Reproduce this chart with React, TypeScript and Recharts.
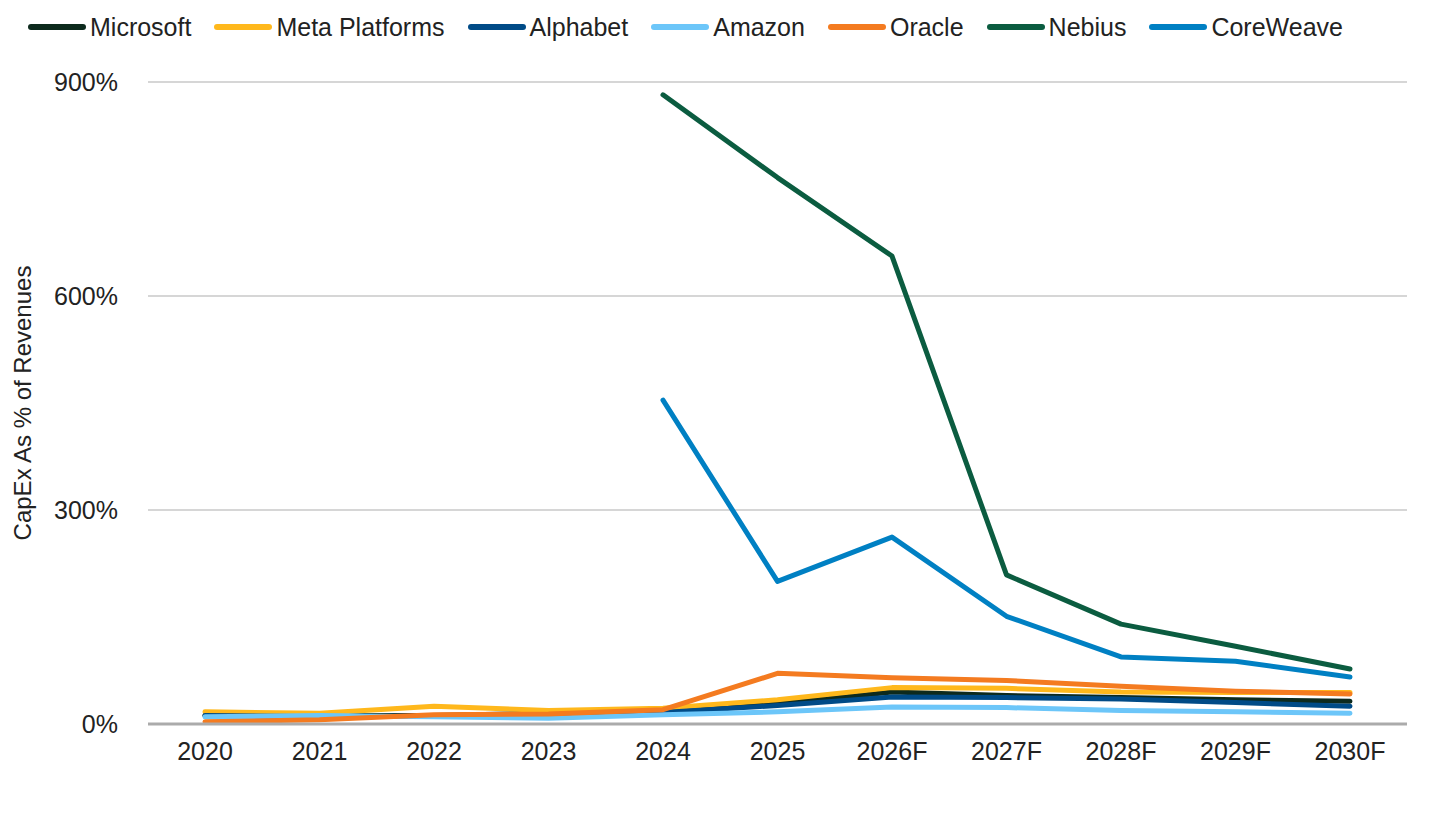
import { LineChart, Line, XAxis, YAxis, CartesianGrid } from "recharts";

const years = ["2020", "2021", "2022", "2023", "2024", "2025", "2026F", "2027F", "2028F", "2029F", "2030F"];

const microsoft = [12, 12, 12, 15, 19, 28, 45, 40, 37, 34, 32];
const meta = [17, 15, 25, 19, 22, 34, 51, 50, 45, 44, 44];
const alphabet = [12, 10, 11, 11, 16, 26, 38, 37, 35, 30, 25];
const amazon = [10, 12, 10, 8, 13, 17, 24, 23, 19, 17, 15];
const oracle = [3, 6, 13, 14, 20, 71, 65, 61, 53, 46, 42];
const nebius = [null, null, null, null, 882, 766, 656, 209, 140, 109, 77];
const coreweave = [null, null, null, null, 454, 200, 262, 151, 94, 88, 66];

const yTicks = [0, 300, 600, 900];

const series = [
  { key: "Microsoft", values: microsoft, color: "#0d2a1d" },
  { key: "Meta Platforms", values: meta, color: "#ffb81c" },
  { key: "Alphabet", values: alphabet, color: "#004b87" },
  { key: "Amazon", values: amazon, color: "#6cc6f9" },
  { key: "Oracle", values: oracle, color: "#f47b20" },
  { key: "Nebius", values: nebius, color: "#0b5c40" },
  { key: "CoreWeave", values: coreweave, color: "#0080c3" },
];

const data = years.map((year, i) => {
  const row: { [key: string]: string | number | null } = { year };
  series.forEach((s) => {
    row[s.key] = s.values[i];
  });
  return row;
});

const FONT = "'Liberation Sans', Arial, Helvetica, sans-serif";
const TEXT = "#222222";

const YLabel = (props: any) => {
  const vb = props.viewBox || {};
  const cy = vb.y + vb.height / 2;
  const cx = 22;
  return (
    <text
      x={cx}
      y={cy}
      transform={`rotate(-90 ${cx} ${cy})`}
      textAnchor="middle"
      dominantBaseline="central"
      fontSize={24}
      fontFamily={FONT}
      fill={TEXT}
    >
      CapEx As % of Revenues
    </text>
  );
};

const App = () => {
  return (
    <div style={{ position: "absolute", left: 0, top: 0, width: 1440, height: 813, background: "#fff", fontFamily: FONT }}>
      <div
        style={{
          position: "absolute",
          left: 28,
          top: 12,
          display: "flex",
          alignItems: "center",
          height: 30,
          fontSize: 25,
          color: TEXT,
          whiteSpace: "nowrap",
        }}
      >
        {series.map((s) => (
          <div key={s.key} style={{ display: "flex", alignItems: "center", marginRight: 23 }}>
            <svg width={58} height={10} style={{ marginRight: 4 }}>
              <line x1={3} y1={5} x2={55} y2={5} stroke={s.color} strokeWidth={6} strokeLinecap="round" />
            </svg>
            <span>{s.key}</span>
          </div>
        ))}
      </div>
      <LineChart
        width={1440}
        height={813}
        data={data}
        margin={{ top: 82, right: 33, left: 0, bottom: 29 }}
      >
        <CartesianGrid vertical={false} stroke="#c8c8c8" strokeWidth={1.3} />
        <XAxis
          dataKey="year"
          height={60}
          padding={{ left: 57, right: 57 }}
          tickLine={false}
          tickSize={0}
          tickMargin={18}
          axisLine={{ stroke: "#ababab", strokeWidth: 3 }}
          tick={{ fontSize: 25, fill: TEXT, fontFamily: FONT }}
          interval={0}
        />
        <YAxis
          width={148}
          domain={[0, 900]}
          ticks={yTicks}
          tickFormatter={(v) => `${v}%`}
          axisLine={false}
          tickLine={false}
          tickSize={0}
          tickMargin={30}
          tick={{ fontSize: 25, fill: TEXT, fontFamily: FONT }}
          label={<YLabel />}
        />
        {series.map((s) => (
          <Line
            key={s.key}
            type="linear"
            dataKey={s.key}
            stroke={s.color}
            strokeWidth={5}
            strokeLinejoin="round"
            strokeLinecap="round"
            dot={false}
            activeDot={false}
            isAnimationActive={false}
            connectNulls={false}
          />
        ))}
      </LineChart>
    </div>
  );
};

export default App;
